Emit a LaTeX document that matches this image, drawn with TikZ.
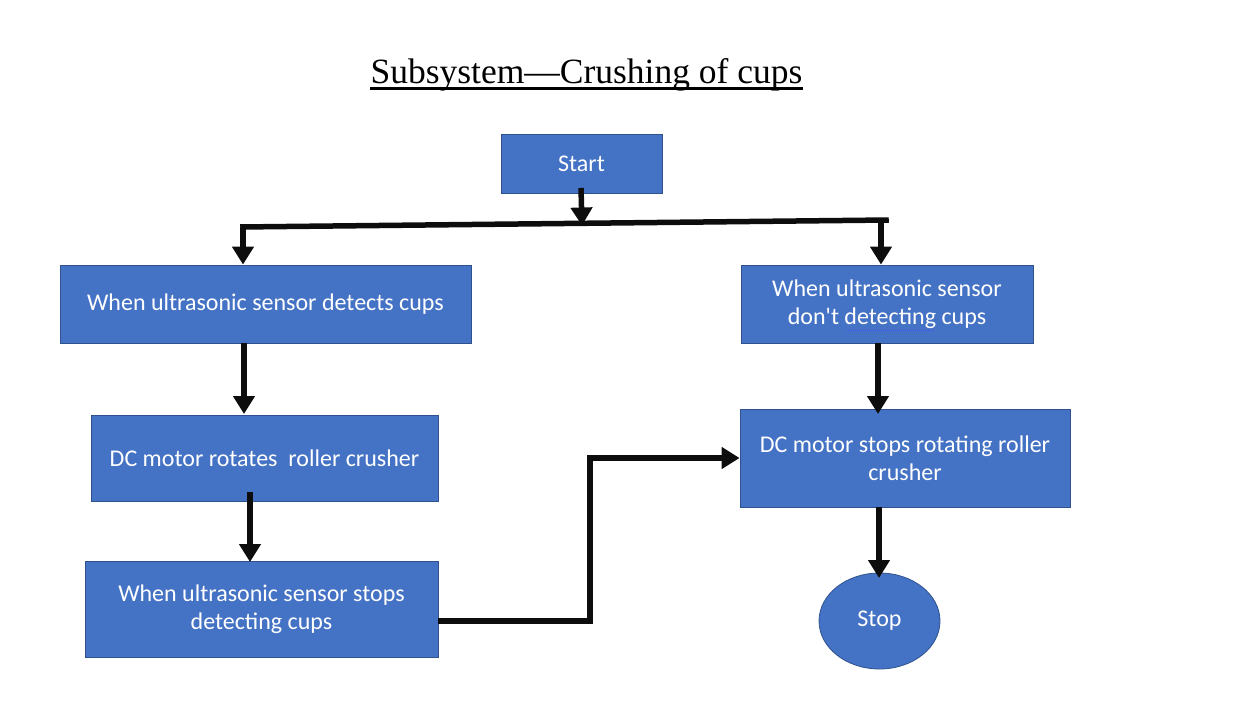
\documentclass[tikz,border=0pt]{standalone}
\usepackage{fontspec}
\setmainfont{Carlito}
\newfontfamily\titlefont{Liberation Serif}
\usetikzlibrary{shapes.geometric,arrows.meta}
\definecolor{boxfill}{HTML}{4472C4}
\definecolor{boxdraw}{HTML}{2F528F}
\tikzset{
  flowbox/.style={rectangle, fill=boxfill, draw=boxdraw, line width=0.8pt, text=white,
    font=\fontsize{24}{28}\selectfont, align=center, inner sep=0pt},
  endshape/.style={ellipse, fill=boxfill, draw=boxdraw, line width=0.8pt, text=white,
    font=\fontsize{24}{28}\selectfont, inner sep=0pt, minimum width=121pt, minimum height=96pt},
  flow/.style={line width=5.5pt, draw=black!95, -{Triangle[width=21pt,length=18pt]}},
  bar/.style={line width=5.5pt, draw=black!95}
}
\begin{document}
\begin{tikzpicture}[x=1pt,y=-1pt]
\useasboundingbox (0,0) rectangle (1236,703);
\node[font=\titlefont\fontsize{35.5}{38}\selectfont, anchor=base, inner sep=0pt] (title) at (586.5,84) {Subsystem—Crushing of cups};
\draw[line width=2.5pt] (title.west |- 0,88.5) -- (title.east |- 0,88.5);

\node[flowbox, minimum width=161pt, minimum height=59pt] (start) at (581.5,163.5) {Start};
\node[flowbox, minimum width=411pt, minimum height=78pt] (l1) at (265.5,304) {When ultrasonic sensor detects cups};
\node[flowbox, minimum width=292pt, minimum height=78pt] (r1) at (887,304) {When ultrasonic sensor\\don\textquotesingle t detecting cups};
\node[flowbox, minimum width=347pt, minimum height=86pt] (l2) at (264.5,458) {DC motor rotates\ \ roller crusher};
\node[flowbox, minimum width=353pt, minimum height=96pt] (l3) at (261.5,609) {When ultrasonic sensor stops\\detecting cups};
\node[flowbox, minimum width=330pt, minimum height=98pt] (r2) at (905,458) {DC motor stops rotating roller\\crusher};
\node[endshape] (stop) at (879.5,621) {Stop};

\draw[densely dotted, draw=blue!70, line width=1pt] (846,330) -- (934,330);

\coordinate (bl) at (243,227);
\coordinate (br) at (886,220);
\coordinate (split) at (582,225.5);
\draw[flow] (581,188) -- (split);
\draw[bar] ([xshift=-2.75pt]bl) -- ([xshift=2.75pt]br);
\draw[flow] (bl) -- (bl |- l1.north);
\draw[flow] ([xshift=-5pt]br) -- ([xshift=-5pt]br |- r1.north);
\draw[flow] (244,343) -- (244,414);
\draw[flow] (250,492) -- (250,562);
\draw[flow] (l3.east |- 0,621) -- (590,621) -- (590,458) -- (r2.west);
\draw[flow] (878,343) -- (878,414);
\draw[flow] (879,507) -- (879,578);
\end{tikzpicture}
\end{document}
